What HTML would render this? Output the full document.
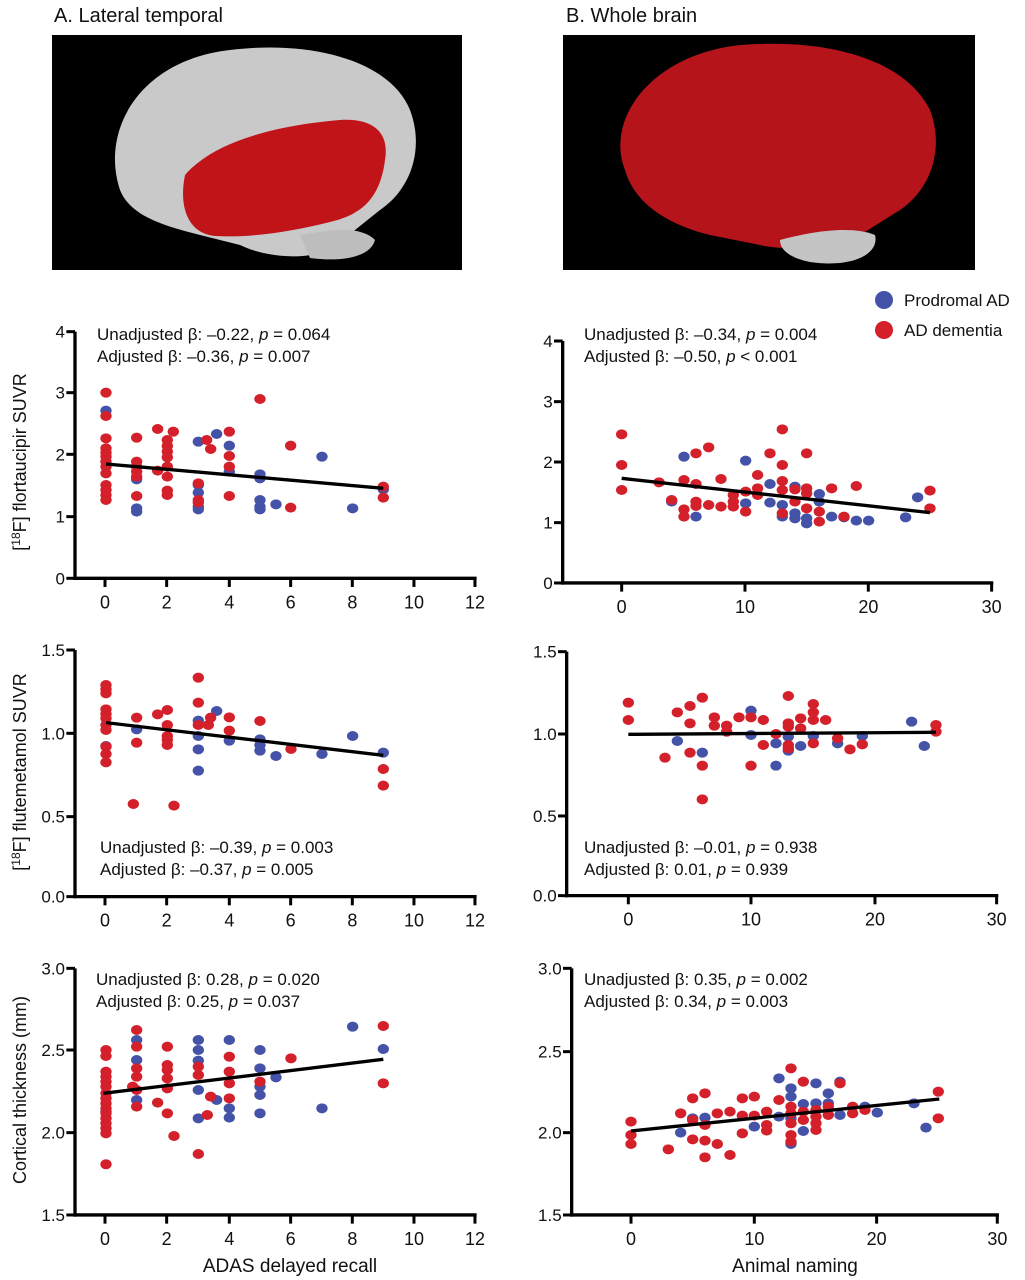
<!DOCTYPE html>
<html><head><meta charset="utf-8"><style>
html,body{margin:0;padding:0;background:#fff;}
svg{display:block;font-family:"Liberation Sans",sans-serif;}
</style></head><body>
<svg id="s" width="1025" height="1280" viewBox="0 0 1025 1280" xmlns="http://www.w3.org/2000/svg">
<rect width="1025" height="1280" fill="#fff"/>
<text x="54" y="22" font-size="20" fill="#111">A. Lateral temporal</text>
<text x="566" y="22" font-size="20" fill="#111">B. Whole brain</text>
<rect x="52" y="35" width="410" height="235" fill="#000"/>
<rect x="563" y="35" width="412" height="235" fill="#000"/>
<path d="M120,190 C100,130 140,60 230,50 C310,40 390,60 410,110 C425,150 410,190 380,210 L330,250 C300,262 260,255 240,245 L200,235 C160,225 130,215 120,190Z" fill="#c9c9c9"/>
<path d="M185,175 C215,140 280,125 340,120 C370,118 390,130 385,160 C380,200 360,215 330,222 C290,232 250,238 215,236 C190,234 178,210 185,175Z" fill="#c01418"/>
<path d="M300,235 C330,230 360,225 375,240 C370,258 340,262 310,258Z" fill="#bdbdbd"/>
<path d="M625,170 C605,120 650,55 740,45 C830,38 905,60 930,110 C945,150 930,190 900,210 L860,235 C820,250 780,250 760,245 L710,235 C670,225 635,205 625,170Z" fill="#b5141a"/>
<path d="M780,240 C810,232 850,225 875,235 C880,255 850,268 810,262 C790,258 780,250 780,240Z" fill="#c4c4c4"/>
<circle cx="884" cy="300" r="9" fill="#4452a8"/>
<circle cx="884" cy="330" r="9" fill="#d4202a"/>
<text x="904" y="306" font-size="17" fill="#111">Prodromal AD</text>
<text x="904" y="336" font-size="17" fill="#111">AD dementia</text>
<text transform="translate(26,462) rotate(-90)" text-anchor="middle" font-size="18" fill="#111">[<tspan font-size="12" dy="-6">18</tspan><tspan dy="6">F] flortaucipir SUVR</tspan></text>
<text transform="translate(26,772) rotate(-90)" text-anchor="middle" font-size="18" fill="#111">[<tspan font-size="12" dy="-6">18</tspan><tspan dy="6">F] flutemetamol SUVR</tspan></text>
<text transform="translate(26,1090) rotate(-90)" text-anchor="middle" font-size="18" fill="#111">Cortical thickness (mm)</text>
<text x="290" y="1272" text-anchor="middle" font-size="19" fill="#111">ADAS delayed recall</text>
<text x="795" y="1272" text-anchor="middle" font-size="19" fill="#111">Animal naming</text>
<g id="plots"></g>
</svg>
<script>
var NS="http://www.w3.org/2000/svg";var P=document.getElementById('plots');
function el(t,a,p){var e=document.createElementNS(NS,t);for(var k in a)e.setAttribute(k,a[k]);(p||P).appendChild(e);return e;}
function txt(x,y,s,anc,size){var e=el('text',{x:x,y:y,'font-size':size||16,fill:'#111','text-anchor':anc||'start'});e.innerHTML=s;}
var R='#d4202a',B='#4452a8';
function plot(o){
 var g=el('g',{transform:'translate('+o.ox+','+o.oy+') scale(0.3333)'});
 var ax=o.ax, ay=o.ay;
 el('line',{x1:ax,y1:o.yt[0],x2:ax,y2:ay+5,stroke:'#000','stroke-width':10},g);
 el('line',{x1:ax-5,y1:ay,x2:o.xt[o.xt.length-1]+5,y2:ay,stroke:'#000','stroke-width':10},g);
 o.yt.forEach(function(t){el('line',{x1:ax-26,y1:t,x2:ax,y2:t,stroke:'#000','stroke-width':9},g);});
 o.xt.forEach(function(t){el('line',{x1:t,y1:ay,x2:t,y2:ay+26,stroke:'#000','stroke-width':9},g);});
 o.blue.forEach(function(p){el('ellipse',{cx:p[0],cy:p[1],rx:17,ry:15,fill:B},g);});
 o.red.forEach(function(p){el('ellipse',{cx:p[0],cy:p[1],rx:17,ry:15,fill:R},g);});
 el('line',{x1:o.line[0],y1:o.line[1],x2:o.line[2],y2:o.line[3],stroke:'#000','stroke-width':10},g);
 o.yt.forEach(function(t,i){txt(o.ox+(ax-30)/3,o.oy+t/3+6,o.yl[i],'end',17);});
 o.xt.forEach(function(t,i){txt(o.ox+t/3,o.oy+ay/3+30,o.xl[i],'middle',18);});
 txt(o.tx,o.ty,o.t1,'start',17);txt(o.tx,o.ty+22,o.t2,'start',17);
}
function col(x,ys){return ys.map(function(y){return [x,y];});}
var XL1=['0','2','4','6','8','10','12'],XT1=[135,320,508,692,877,1062,1245];
plot({ox:60,oy:320,ax:45,ay:775,yt:[35,218,403,590,775],yl:['4','3','2','1','0'],xt:XT1,xl:XL1,
red:[].concat(col(138,[218,288,355,385,398,410,425,440,460,495,510,525,540]),col(230,[353,425,440,455,470,528]),[[293,327],[293,452],[340,335]],col(322,[360,378,395,412,440,470,512,525]),col(415,[490,540,548]),[[440,360],[452,387]],col(508,[335,408,440,528]),[[600,237],[692,377],[692,563],[970,500],[970,533]]),
blue:[[138,272]].concat(col(230,[478,565,575]),col(415,[365,495,518,560,568]),[[470,342]],col(508,[377,455]),col(600,[463,475,540,560,568]),[[648,553],[786,410],[878,565],[970,508]]),
line:[138,432,970,505],tx:97,ty:340,t1:'Unadjusted β: –0.22, <tspan font-style="italic">p</tspan> = 0.064',t2:'Adjusted β: –0.36, <tspan font-style="italic">p</tspan> = 0.007'});
plot({ox:560,oy:320,ax:8,ay:789,yt:[63,245,426,608,789],yl:['4','3','2','1','0'],xt:[185,555,925,1295],xl:['0','10','20','30'],
red:[[185,343],[185,435],[185,510],[297,487],[335,540],[372,480],[372,568],[372,590],[408,400],[408,492],[408,545],[408,558],[446,382],[446,555],[483,477],[483,560],[520,525],[520,545],[520,560],[557,515],[557,575],[593,465],[593,505],[593,525],[630,400],[667,328],[667,435],[667,483],[667,510],[667,580],[705,508],[705,545],[740,400],[740,505],[740,520],[740,565],[778,575],[778,605],[815,505],[852,590],[889,498],[1110,512],[1110,565]],
blue:[[335,545],[372,410],[408,590],[557,422],[557,550],[630,492],[630,548],[667,555],[667,590],[705,500],[705,580],[705,595],[740,595],[740,610],[778,522],[778,545],[815,590],[852,592],[889,602],[926,602],[1037,592],[1073,532]],
line:[185,475,1110,578],tx:584,ty:340,t1:'Unadjusted β: –0.34, <tspan font-style="italic">p</tspan> = 0.004',t2:'Adjusted β: –0.50, <tspan font-style="italic">p</tspan> &lt; 0.001'});
plot({ox:60,oy:630,ax:45,ay:800,yt:[60,310,560,800],yl:['1.5','1.0','0.5','0.0'],xt:XT1,xl:XL1,
red:col(138,[165,178,190,238,252,265,285,300,350,372,397]).concat(col(230,[263,338]),[[220,522],[293,253]],col(322,[240,285,318,330,345]),[[342,527]],col(415,[143,218,285]),[[445,285],[452,263]],col(508,[262,302]),[[600,273],[693,357],[970,417],[970,467]]),
blue:[[138,348],[230,298]].concat(col(415,[272,318,358,422]),[[470,243],[508,332]],col(600,[328,345,362]),[[648,378],[786,372],[878,318],[970,368]]),
line:[138,278,970,376],tx:100,ty:853,t1:'Unadjusted β: –0.39, <tspan font-style="italic">p</tspan> = 0.003',t2:'Adjusted β: –0.37, <tspan font-style="italic">p</tspan> = 0.005'});
plot({ox:560,oy:630,ax:20,ay:797,yt:[65,312,558,797],yl:['1.5','1.0','0.5','0.0'],xt:[205,573,945,1310],xl:['0','10','20','30'],
red:[[205,218],[205,270],[315,383],[352,247],[390,228],[390,280],[390,368],[427,203],[427,407],[427,508],[463,262],[463,287],[500,287],[500,305],[537,262],[573,262],[573,407],[610,270],[610,345],[648,312],[685,198],[685,280],[685,290],[685,345],[685,355],[722,265],[722,295],[760,222],[760,247],[760,270],[760,340],[797,270],[833,325],[870,358],[907,343],[1128,285],[1128,305]],
blue:[[352,333],[427,368],[573,242],[573,315],[648,340],[648,407],[685,320],[685,362],[722,348],[760,318],[833,340],[907,318],[1055,275],[1093,348]],
line:[205,313,1128,307],tx:584,ty:853,t1:'Unadjusted β: –0.01, <tspan font-style="italic">p</tspan> = 0.938',t2:'Adjusted β: 0.01, <tspan font-style="italic">p</tspan> = 0.939'});
plot({ox:60,oy:950,ax:45,ay:795,yt:[55,300,548,795],yl:['3.0','2.5','2.0','1.5'],xt:XT1,xl:XL1,
red:col(138,[300,318,365,380,395,410,430,445,460,475,490,505,520,535,550,643]).concat(col(230,[240,290,355,380,420,470]),[[218,410],[293,458]],col(322,[290,345,360,385,415,490]),[[342,558]],col(415,[350,375,612]),[[452,440],[442,495]],col(508,[320,365,400,445]),[[600,395],[693,325],[970,228],[970,400]]),
blue:[[138,485]].concat(col(230,[270,330,450]),col(415,[270,300,332,420,505]),[[470,450]],col(508,[270,475,503]),col(600,[300,355,410,435,490]),[[648,382],[786,475],[878,230],[970,297]]),
line:[130,430,970,328],tx:96,ty:985,t1:'Unadjusted β: 0.28, <tspan font-style="italic">p</tspan> = 0.020',t2:'Adjusted β: 0.25, <tspan font-style="italic">p</tspan> = 0.037'});
plot({ox:560,oy:950,ax:35,ay:795,yt:[55,305,548,795],yl:['3.0','2.5','2.0','1.5'],xt:[213,583,950,1312],xl:['0','10','20','30'],
red:[[213,515],[213,555],[213,582],[325,598],[362,490],[398,445],[398,510],[398,568],[435,430],[435,525],[435,572],[435,622],[472,490],[472,582],[510,485],[510,615],[547,445],[547,497],[547,550],[583,440],[583,497],[620,485],[620,525],[620,542],[657,450],[693,355],[693,470],[693,490],[693,520],[693,555],[693,575],[730,395],[730,485],[730,510],[768,480],[768,500],[768,520],[768,540],[805,470],[805,495],[840,400],[878,470],[878,490],[915,480],[1135,425],[1135,505]],
blue:[[362,548],[398,505],[435,503],[583,530],[657,385],[657,500],[693,415],[693,440],[693,505],[693,582],[730,462],[730,543],[768,400],[768,460],[805,430],[805,460],[840,395],[840,495],[915,470],[952,488],[1062,460],[1098,533]],
line:[213,543,1138,447],tx:584,ty:985,t1:'Unadjusted β: 0.35, <tspan font-style="italic">p</tspan> = 0.002',t2:'Adjusted β: 0.34, <tspan font-style="italic">p</tspan> = 0.003'});
</script>
</body></html>
